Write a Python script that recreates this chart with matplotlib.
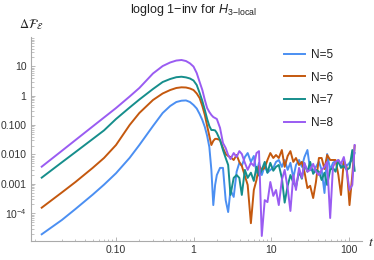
import numpy as np
import matplotlib
matplotlib.use("Agg")
import matplotlib.pyplot as plt
from matplotlib.ticker import FixedLocator, FixedFormatter, NullFormatter, LogLocator

# ---- data ----
t = [0.011, 0.02, 0.03, 0.05, 0.07, 0.1, 0.15, 0.2, 0.3, 0.4, 0.5, 0.6, 0.7, 0.8, 0.9,
     1.0, 1.1, 1.2, 1.3, 1.4, 1.5, 1.6, 1.7, 1.8, 1.9, 2.0,
     2.2, 2.4, 2.6, 2.8, 3.0, 3.3, 3.6, 3.9, 4.2, 4.6,
     5.0, 5.5, 6.0, 6.5, 7.0, 7.6, 8.3, 9.0, 9.8, 10.7,
     11.6, 12.6, 13.8, 15, 16.4, 17.8, 19.4, 21, 23, 25,
     27, 29.5, 32, 35, 38, 41.5, 45, 49, 53, 58,
     63, 68, 74, 80, 87, 95, 103, 112, 120]

f_n5 = [1.93e-5, 5.9e-5, 1.4e-4, 4.3e-4, 9.4e-4, 2.3e-3, 7.7e-3, 0.021, 0.093, 0.258, 0.446, 0.61,
        0.676, 0.69, 0.61, 0.483, 0.367, 0.238, 0.149, 0.086, 0.043, 0.018, 3.0e-3, 1.9e-4, 9.2e-4, 2.0e-3,
        3.5e-3, 3.5e-3, 2.8e-4, 1.1e-4, 6.2e-4, 3.6e-4, 2.6e-3, 5.2e-3, 4.1e-3, 8.2e-3,
        0.0112, 5.6e-3, 8.9e-3, 2.4e-3, 5.2e-3, 2.0e-3, 4.1e-3, 2.4e-3, 3.0e-3, 3.5e-3,
        5.6e-3, 6.5e-3, 3.8e-3, 6.5e-3, 3.0e-3, 5.2e-3, 1.6e-3, 4.4e-3, 6.5e-3, 3.8e-3,
        8.2e-3, 0.0142, 3.0e-3, 2.8e-3, 3.8e-3, 5.6e-3, 3.0e-3, 4.9e-4, 0.0104, 3.0e-3,
        5.2e-3, 6.0e-3, 5.6e-3, 3.8e-3, 5.2e-3, 4.1e-3, 5.2e-3, 6.5e-3, 0.0112]

f_n6 = [1.55e-4, 5.1e-4, 1.16e-3, 3.5e-3, 7.6e-3, 0.021, 0.101, 0.258, 0.714, 1.19, 1.56, 1.83,
        1.93, 1.90, 1.76, 1.56, 1.19, 0.83, 0.446, 0.221, 0.093, 0.043, 0.021, 0.029, 0.034, 0.034,
        0.031, 0.0166, 0.0104, 8.9e-3, 8.2e-3, 6.5e-3, 9.6e-3, 5.6e-3, 4.1e-3, 1.87e-3,
        9.2e-4, 4.6e-5, 6.2e-4, 1.36e-3, 4.1e-3, 3.0e-3, 3.5e-3, 6.5e-3, 0.0112, 7.6e-3,
        9.6e-3, 7.6e-3, 0.0142, 3.8e-3, 8.9e-3, 0.013, 5.6e-3, 7.6e-3, 4.4e-3, 5.6e-3,
        2.6e-3, 7.2e-4, 8.6e-4, 3.3e-4, 1.16e-3, 7.6e-3, 7.6e-3, 3.2e-3, 9.6e-3, 6.5e-3,
        6.5e-3, 6.5e-3, 2.0e-3, 4.2e-4, 6.0e-3, 3.5e-3, 1.9e-4, 2.0e-3, 0.0195]

f_n7 = [1.63e-3, 5.4e-3, 0.0121, 0.0336, 0.066, 0.161, 0.397, 0.74, 1.69, 2.92, 3.7, 4.26,
        4.42, 4.2, 3.85, 3.29, 2.31, 1.24, 0.66, 0.326, 0.161, 0.093, 0.068, 0.068, 0.066, 0.054,
        0.031, 0.0142, 7.6e-3, 4.4e-3, 4.2e-4, 1.6e-3, 2.0e-3, 1.6e-3, 4.2e-4, 3.0e-3,
        1.6e-3, 2.4e-3, 1.26e-3, 3.8e-3, 1.9e-3, 3.0e-3, 5.6e-3, 2.4e-3, 5.2e-3, 2.8e-3,
        3.8e-3, 4.4e-3, 1.6e-3, 2.3e-4, 8.6e-4, 2.0e-3, 1.1e-3, 7.9e-4, 2.6e-3, 1.5e-3,
        4.8e-3, 2.6e-3, 5.6e-3, 2.2e-3, 3.0e-3, 2.6e-3, 1.36e-3, 2.4e-3, 9.2e-4, 3.0e-3,
        3.5e-3, 2.6e-3, 6.5e-3, 3.5e-3, 4.1e-3, 3.0e-3, 3.5e-3, 0.0142, 2.8e-3]

f_n8 = [3.85e-3, 0.0133, 0.031, 0.09, 0.181, 0.38, 0.94, 1.83, 5.7, 10.2, 13.5, 15.7,
        16.4, 15.1, 12.6, 9.8, 5.9, 2.92, 1.56, 0.714, 0.38, 0.279, 0.221, 0.188, 0.174, 0.161,
        0.080, 0.0246, 0.0166, 9.6e-3, 7.0e-3, 0.0112, 8.2e-3, 0.013, 0.0104, 5.2e-3,
        3.0e-3, 5.2e-3, 4.1e-3, 0.0112, 0.013, 1.69e-5, 2.8e-4, 2.4e-4, 1.16e-3, 3.9e-4,
        6.2e-4, 1.9e-4, 1.36e-3, 3.0e-3, 7.2e-4, 1.2e-4, 2.0e-3, 6.2e-4, 3.5e-3, 1.6e-3,
        5.2e-3, 2.6e-3, 3.0e-3, 4.8e-3, 2.6e-3, 2.0e-3, 3.0e-3, 3.8e-3, 5.6e-3, 6.9e-5,
        3.8e-3, 5.6e-3, 6.5e-3, 4.8e-3, 8.2e-3, 2.6e-3, 6.2e-4, 9.2e-4, 0.021]

series_labels = ["N=5", "N=6", "N=7", "N=8"]
series_colors = ["#4b8ff2", "#c4580e", "#168e8c", "#9a5cf2"]

xtick_vals = [0.1, 1, 10, 100]
xtick_labels = ["0.10", "1", "10", "100"]
ytick_vals = [1e-4, 1e-3, 1e-2, 1e-1, 1, 10]
ytick_labels = [r"$10^{-4}$", "0.001", "0.010", "0.100", "1", "10"]

title_text = r"loglog 1−inv for $H_{3\mathrm{-local}}$"
ylabel_text = r"$\Delta\mathcal{F}_{\mathcal{E}}$"
xlabel_text = r"$t$"

# ---- style ----
plt.rcParams['font.family'] = ['Liberation Sans', 'DejaVu Sans']
plt.rcParams['mathtext.fontset'] = 'custom'
plt.rcParams['mathtext.rm'] = 'Liberation Sans'
plt.rcParams['mathtext.it'] = 'Liberation Sans:italic'
plt.rcParams['mathtext.bf'] = 'Liberation Sans:bold'

W, H = 374, 260
fig = plt.figure(figsize=(W / 100, H / 100), dpi=100)
ax = fig.add_axes([30.7 / W, 19 / H, (362 - 30.7) / W, (241 - 37) / H])

for vals, lab, col in zip([f_n5, f_n6, f_n7, f_n8], series_labels, series_colors):
    ax.plot(t, vals, color=col, lw=1.4, label=lab, solid_joinstyle='round')

ax.set_xscale('log')
ax.set_yscale('log')
ax.set_xlim(0.00793, 149.3)
ax.set_ylim(1.14e-5, 99.3)

ax.xaxis.set_major_locator(FixedLocator(xtick_vals))
ax.xaxis.set_major_formatter(FixedFormatter(xtick_labels))
ax.yaxis.set_major_locator(FixedLocator(ytick_vals))
ax.yaxis.set_major_formatter(FixedFormatter(ytick_labels))
for a in (ax.xaxis, ax.yaxis):
    a.set_minor_locator(LogLocator(base=10, subs=np.arange(2, 10), numticks=50))
    a.set_minor_formatter(NullFormatter())

axis_col = "#aaaaaa"
for s in ("top", "right"):
    ax.spines[s].set_visible(False)
for s in ("left", "bottom"):
    ax.spines[s].set_color(axis_col)
    ax.spines[s].set_linewidth(0.8)
ax.tick_params(which='major', direction='in', length=3.2, width=0.6, color=axis_col,
               labelsize=7.5, labelcolor='#333333', pad=3)
ax.tick_params(which='minor', direction='in', length=1.8, width=0.5, color=axis_col)

leg = ax.legend(loc='upper left', bbox_to_anchor=(284 / W, 1 - 49 / H), bbox_transform=fig.transFigure,
                frameon=False, fontsize=8.5, handlelength=1.8, handletextpad=0.5,
                labelspacing=0.9, borderpad=0, borderaxespad=0)
for txt in leg.get_texts():
    txt.set_color('#222222')

fig.text(194 / W, 1 - 10 / H, title_text, ha='center', va='center', fontsize=9, color='#222222')
fig.text(31 / W, 1 - 25 / H, ylabel_text, ha='center', va='center', fontsize=9,
         math_fontfamily='stix', color='#222222')
fig.text(371 / W, 1 - 242 / H, xlabel_text, ha='center', va='center', fontsize=10,
         math_fontfamily='stix', color='#222222')

fig.savefig("out.png", dpi=100)
